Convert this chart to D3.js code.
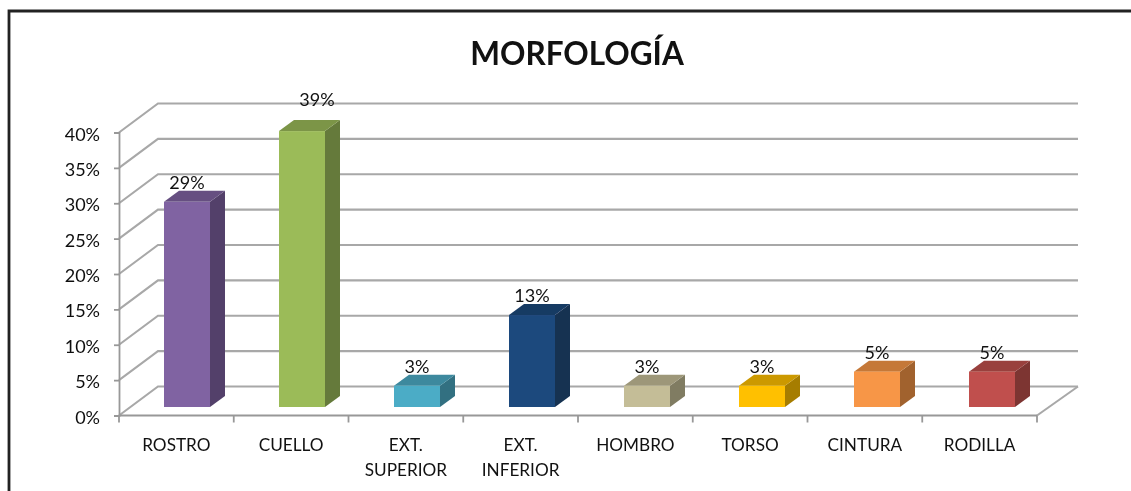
<!DOCTYPE html>
<html>
<head>
<meta charset="utf-8">
<script src="https://cdn.jsdelivr.net/npm/d3@7"></script>
<style>
  body { margin: 0; background: #fff; }
  text { font-family: Lato, sans-serif; fill: #111; }
</style>
</head>
<body>
<div class="chart"></div>
<script>
const categories = ["ROSTRO", "CUELLO", "EXT. SUPERIOR", "EXT. INFERIOR", "HOMBRO", "TORSO", "CINTURA", "RODILLA"];
const values = [29, 39, 3, 13, 3, 3, 5, 5];
const yTicks = [0, 5, 10, 15, 20, 25, 30, 35, 40];
const frontColors = ["#8064A2", "#9BBB59", "#4BACC6", "#1F497D", "#C4BD97", "#FFC000", "#F79646", "#C0504D"];

const width = 1131, height = 491;
const x0 = 119, x1 = 1037, y0 = 415.5, y40 = 132.5;
const depthX = 39, depthY = 29;     // wall depth of the 3d box
const barDepthX = 15, barDepthY = 11;

const svg = d3.select(".chart").append("svg")
    .attr("width", width)
    .attr("height", height)
    .style("display", "block");

const defs = svg.append("defs");
defs.append("filter").attr("id", "soft")
    .append("feGaussianBlur").attr("stdDeviation", 0.45);

// outer frame, cut off by the picture on the right and bottom
svg.append("path")
    .attr("d", `M9,${height}V11H${width}`)
    .attr("fill", "none")
    .attr("stroke", "#222")
    .attr("stroke-width", 2.8);

const xScale = d3.scaleBand().domain(categories).range([x0, x1]);
const yScale = d3.scaleLinear().domain([0, 40]).range([y0, y40]);

const chart = svg.append("g").attr("filter", "url(#soft)");

// gridlines on the back wall and their diagonals on the side wall
const grid = chart.append("g")
    .attr("fill", "none")
    .attr("stroke", "#a8a8a8")
    .attr("stroke-width", 2.1);

grid.selectAll("path")
    .data(yTicks)
    .join("path")
    .attr("d", d => `M${x0},${yScale(d)}L${x0 + depthX},${yScale(d) - depthY}H${x1 + depthX + 2}`);

// floor edge on the right
grid.append("path")
    .attr("d", `M${x1},${y0}L${x1 + depthX + 2},${y0 - depthY}`);

const xAxis = d3.axisBottom(xScale).tickSize(7).tickFormat("");
const yAxis = d3.axisLeft(yScale).tickValues(yTicks).tickSize(5).tickFormat(d => d + "%");

const gx = chart.append("g")
    .attr("transform", `translate(0,${y0})`)
    .call(xAxis);
gx.selectAll(".tick").remove();
gx.select(".domain").attr("d", `M${x0},0H${x1}`);

// ticks sit on the band edges, not the band centres
gx.selectAll("line.edge")
    .data(d3.range(categories.length + 1))
    .join("line")
    .attr("class", "edge")
    .attr("x1", i => x0 + i * xScale.step())
    .attr("x2", i => x0 + i * xScale.step())
    .attr("y1", 0)
    .attr("y2", 7);

const gy = chart.append("g")
    .attr("transform", `translate(${x0},0)`)
    .call(yAxis);

chart.selectAll(".domain, .tick line, line.edge")
    .attr("stroke", "#989898")
    .attr("stroke-width", 1.8);

gy.selectAll("text")
    .attr("x", -19)
    .attr("dy", "0.42em")
    .attr("font-size", 18)
    .attr("font-family", "Lato, sans-serif");

// category labels, EXT. ones take two lines
const catLabels = svg.append("g")
    .attr("text-anchor", "middle")
    .attr("font-size", 17.2)
    .selectAll("text")
    .data(categories)
    .join("text")
    .attr("x", d => xScale(d) + xScale.bandwidth() / 2)
    .attr("y", 451);

catLabels.each(function(d) {
    const parts = d.startsWith("EXT.") ? d.split(" ") : [d];
    d3.select(this).selectAll("tspan")
        .data(parts)
        .join("tspan")
        .attr("x", xScale(d) + xScale.bandwidth() / 2)
        .attr("dy", (p, i) => i ? 25 : 0)
        .text(p => p);
});

// bars: front, top and side faces. they step a hair wider than the ticks
const barW = 46, barShift = 45, floor = 8.5;
const barX = i => xScale(categories[i]) + barShift + i * 0.25;
const bars = chart.append("g")
    .selectAll("g")
    .data(categories)
    .join("g")
    .attr("transform", (d, i) => `translate(${barX(i)},0)`);

const topY = i => yScale(values[i]) - floor;
const bottomY = y0 - floor;

bars.append("path")
    .attr("fill", (d, i) => d3.color(frontColors[i]).darker(1.2))
    .attr("d", (d, i) => `M${barW},${topY(i)}l${barDepthX},${-barDepthY}V${bottomY - barDepthY}L${barW},${bottomY}Z`);

bars.append("path")
    .attr("fill", (d, i) => d3.color(frontColors[i]).darker(0.63))
    .attr("d", (d, i) => `M0,${topY(i)}l${barDepthX},${-barDepthY}h${barW}l${-barDepthX},${barDepthY}Z`);

bars.append("rect")
    .attr("fill", (d, i) => frontColors[i])
    .attr("x", 0)
    .attr("y", (d, i) => topY(i))
    .attr("width", barW)
    .attr("height", (d, i) => bottomY - topY(i));

// value labels, the tallest bar's one was pushed up and right in the original
svg.append("g")
    .attr("text-anchor", "middle")
    .attr("font-size", 18)
    .selectAll("text")
    .data(values)
    .join("text")
    .attr("x", (d, i) => barX(i) + barW / 2 + (d === 39 ? 15 : 0))
    .attr("y", (d, i) => topY(i) - barDepthY - (d === 39 ? 14 : 2))
    .text(d => d + "%");

svg.append("text")
    .attr("x", 577)
    .attr("y", 65)
    .attr("text-anchor", "middle")
    .attr("font-size", 31.5)
    .attr("font-weight", 700)
    .text("MORFOLOGÍA");
</script>
</body>
</html>
